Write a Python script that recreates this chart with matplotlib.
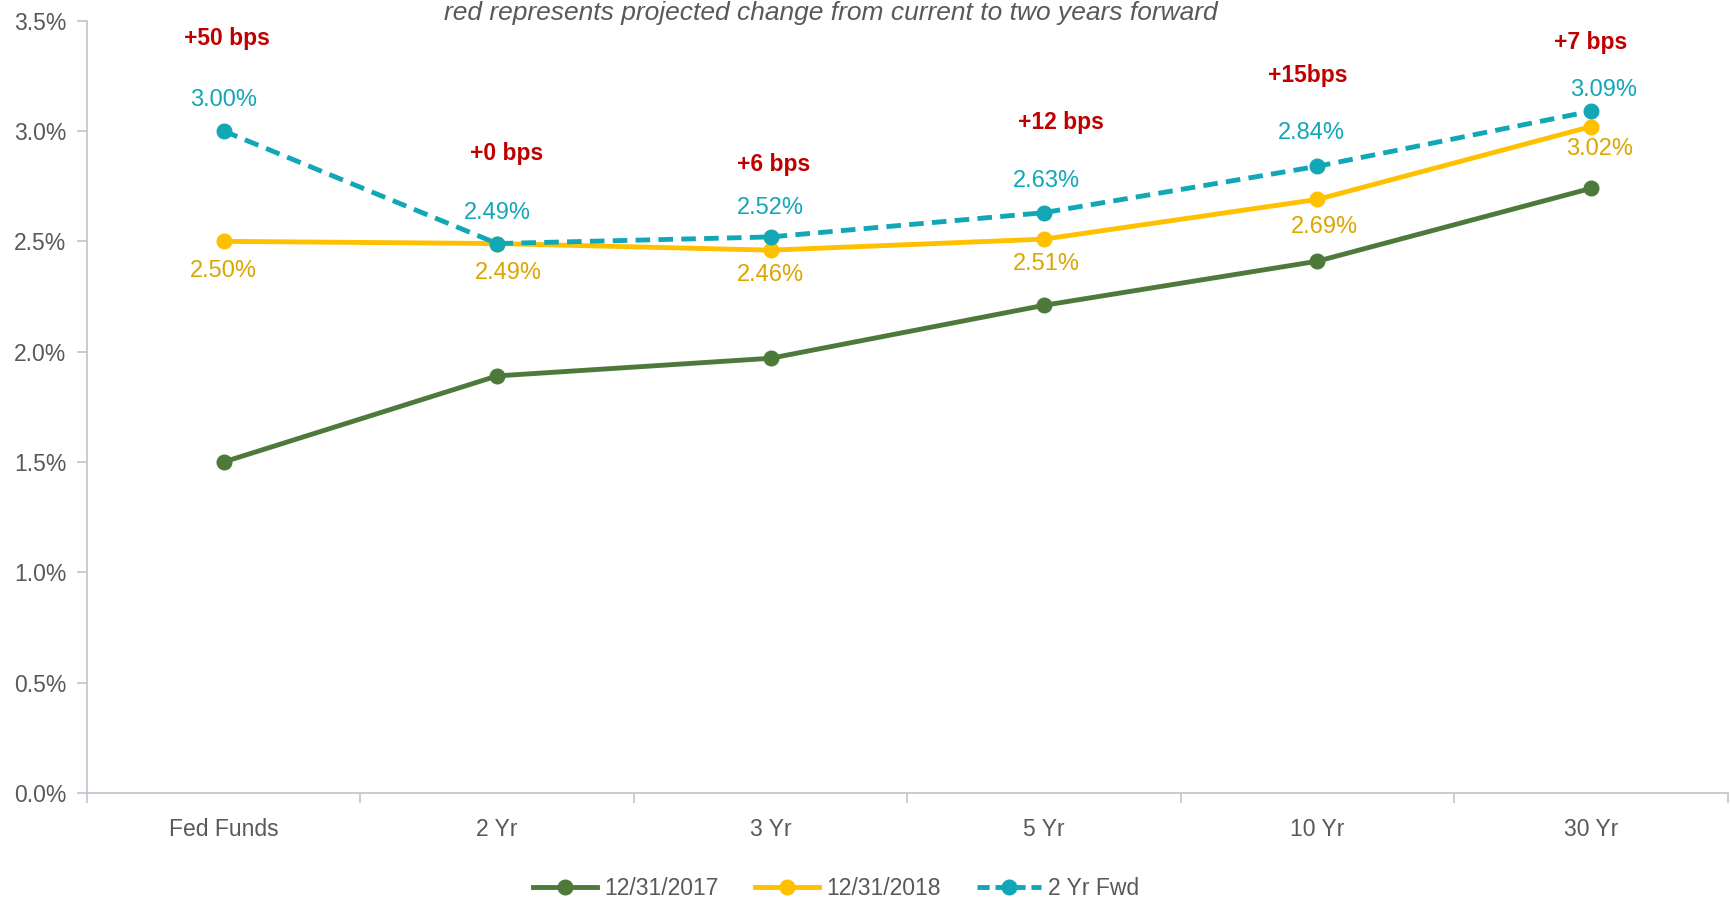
import matplotlib.pyplot as plt
from matplotlib.lines import Line2D

plt.rcParams['font.family'] = ['Liberation Sans Narrow', 'Liberation Sans', 'DejaVu Sans']

# Treasury curve data
tenors = ["Fed Funds", "2 Yr", "3 Yr", "5 Yr", "10 Yr", "30 Yr"]
y2017 = [1.50, 1.89, 1.97, 2.21, 2.41, 2.74]
y2018 = [2.50, 2.49, 2.46, 2.51, 2.69, 3.02]
fwd2 = [3.00, 2.49, 2.52, 2.63, 2.84, 3.09]
bps_labels = ["+50 bps", "+0 bps", "+6 bps", "+12 bps", "+15bps", "+7 bps"]
bps_heights = [3.42, 2.90, 2.85, 3.04, 3.25, 3.40]

green = "#4D7A3B"
yellow = "#FFC000"
yellow_txt = "#DBA600"
teal = "#12A7B7"
red = "#C00000"
gray = "#595959"
spine = "#BFC5CC"
fs = 16.5

fig = plt.figure(figsize=(17.31, 9.01), dpi=100)
ax = fig.add_axes([0.0503, 0.120, 0.9477, 0.857])

x = list(range(len(tenors)))
ax.plot(x, y2017, color=green, lw=3.5, marker="o", ms=10.5, zorder=3)
ax.plot(x, y2018, color=yellow, lw=3.5, marker="o", ms=10.5, zorder=4)
ax.plot(x, fwd2, color=teal, lw=3.5, ls=(0, (3, 1.7)), marker="o", ms=10.5, zorder=5)

# value labels: forward above, 2018 below
fwd_dx = [0, 0, 0, 2, -4, 9]
fwd_dy = [22, 22, 21, 23, 24, 15]
for i, v in enumerate(fwd2):
    ax.annotate(f"{v:.2f}%", (i, v), xytext=(fwd_dx[i], fwd_dy[i]), textcoords="offset points",
                ha="center", va="center", color=teal, fontsize=17)
y18_dx = [0, 8, 0, 2, 5, 6]
y18_dy = [-21, -21, -18, -18, -20, -16]
for i, v in enumerate(y2018):
    ax.annotate(f"{v:.2f}%", (i, v), xytext=(y18_dx[i], y18_dy[i]), textcoords="offset points",
                ha="center", va="center", color=yellow_txt, fontsize=17)

bps_dx = [2, 7, 2, 12, -7, 0]
for i, (lab, h) in enumerate(zip(bps_labels, bps_heights)):
    ax.annotate(lab, (i, h), xytext=(bps_dx[i], 0), textcoords="offset points",
                ha="center", va="center", color=red, fontsize=fs, fontweight="bold")

ax.set_xlim(-0.5, len(tenors) - 0.5)
ax.set_ylim(0, 3.5)
ax.set_yticks([0, 0.5, 1.0, 1.5, 2.0, 2.5, 3.0, 3.5])
ax.set_yticklabels([f"{t:.1f}%" for t in ax.get_yticks()])
ax.set_xticks(x)
ax.set_xticklabels(tenors)
ax.set_xticks([i - 0.5 for i in range(len(tenors) + 1)], minor=True)
ax.tick_params(axis="x", which="major", length=0, pad=18, labelsize=fs, labelcolor=gray)
ax.tick_params(axis="x", which="minor", length=7, color=spine, width=1.2)
ax.tick_params(axis="y", length=7, color=spine, width=1.2, pad=8, labelsize=fs, labelcolor=gray)

for s in ["top", "right"]:
    ax.spines[s].set_visible(False)
for s in ["left", "bottom"]:
    ax.spines[s].set_color(spine)
    ax.spines[s].set_linewidth(1.2)

fig.text(0.480, 0.986, "red represents projected change from current to two years forward",
         ha="center", va="center", style="italic", fontsize=19, color=gray)

handles = [
    Line2D([], [], color=green, lw=3.5, marker="o", ms=10.5),
    Line2D([], [], color=yellow, lw=3.5, marker="o", ms=10.5),
    Line2D([], [], color=teal, lw=3.5, ls=(0, (2.5, 1.2)), marker="o", ms=10.5),
]
fig.legend(handles, ["12/31/2017", "12/31/2018", "2 Yr Fwd"], loc="center",
           bbox_to_anchor=(0.483, 0.014), ncol=3, frameon=False, fontsize=fs,
           handlelength=2.8, handletextpad=0.3, columnspacing=1.6, labelcolor=gray)

fig.savefig("out.png", dpi=100)
